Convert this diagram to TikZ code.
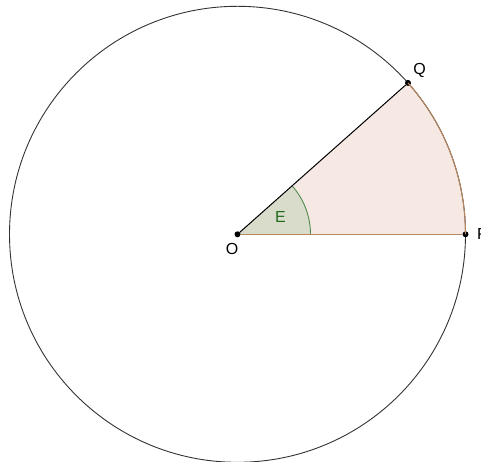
\documentclass[tikz,border=0pt]{standalone}
\usepackage{fontspec}
\setmainfont{Liberation Sans}
\usetikzlibrary{calc}
\definecolor{sectorfill}{HTML}{F6E8E3}
\definecolor{sectorline}{HTML}{B8865F}
\definecolor{anglefill}{HTML}{D9DCCB}
\definecolor{angleline}{HTML}{4E8A4E}
\definecolor{angletext}{HTML}{1F6B1F}
\definecolor{linegray}{HTML}{333333}
\tikzset{
  point/.style={circle, fill=black, inner sep=0pt, minimum size=6pt},
  ptlabel/.style={font=\fontsize{16}{16}\selectfont, inner sep=0pt},
  anglelabel/.style={font=\fontsize{16}{16}\selectfont, text=angletext, inner sep=0pt},
  circleline/.style={draw=linegray, line width=0.9pt},
  radius line/.style={draw=black, line width=1pt},
  sector edge/.style={draw=sectorline, line width=1pt}
}
\begin{document}
\begin{tikzpicture}[x=1pt, y=1pt]
  \useasboundingbox (0,0) rectangle (481,462);
  \coordinate (c) at (237.5,227.7);

  % sector and angle fills
  \fill[sectorfill] (c) -- ++(0:228) arc[start angle=0, end angle=41.6, radius=228] -- cycle;
  \fill[anglefill] (c) -- ++(0:73) arc[start angle=0, end angle=41.6, radius=73] -- cycle;
  \draw[angleline, line width=0.9pt] ($(c)+(0:73)$) arc[start angle=0, end angle=41.6, radius=73];

  \draw[circleline] (c) circle[radius=228];

  \node[point] (O) at (c) {};
  \node[point] (P) at ($(c)+(0:228)$) {};
  \node[point] (Q) at ($(c)+(41.6:228)$) {};

  \draw[radius line] (O) -- (Q);
  \draw[sector edge] (O) -- (P);
  \draw[sector edge] (P.center) arc[start angle=0, end angle=41.6, radius=228];

  \node[ptlabel] (labO) at (232,213) {O};
  \node[ptlabel] (labQ) at (419.5,391.5) {Q};
  \node[ptlabel] (labP) at (482.5,228) {P};
  \node[anglelabel] (labE) at (280.5,244.5) {E};
\end{tikzpicture}
\end{document}
